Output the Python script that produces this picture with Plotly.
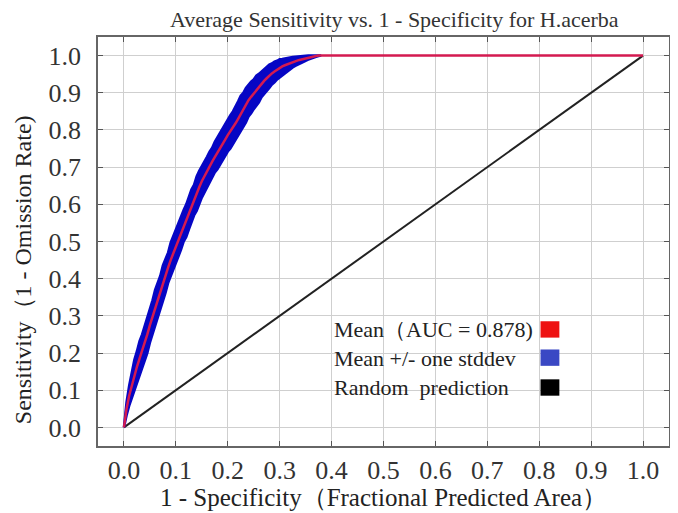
import plotly.graph_objects as go

# ---- data ----
fpr = [0, 0.005, 0.01, 0.015, 0.02, 0.025, 0.03, 0.035, 0.04, 0.045, 0.05, 0.055, 0.06, 0.065, 0.07, 0.075, 0.08, 0.085, 0.09, 0.095,
       0.10, 0.105, 0.11, 0.115, 0.12, 0.125, 0.13, 0.135, 0.14, 0.145, 0.15, 0.155, 0.16, 0.165, 0.17, 0.175, 0.18, 0.185, 0.19, 0.195,
       0.20, 0.205, 0.21, 0.215, 0.22, 0.225, 0.23, 0.235, 0.24, 0.245, 0.25, 0.255, 0.26, 0.265, 0.27, 0.275, 0.28, 0.285, 0.29, 0.295,
       0.30, 0.305, 0.31, 0.315, 0.32, 0.325, 0.33, 0.335, 0.34, 0.345, 0.35, 0.355, 0.36, 0.365, 0.37, 0.375, 0.38]
mean_tpr = [0, 0.05, 0.085, 0.113, 0.14, 0.163, 0.185, 0.205, 0.225, 0.25, 0.275, 0.298, 0.32, 0.343, 0.365, 0.388, 0.41, 0.43, 0.45, 0.468,
            0.487, 0.506, 0.525, 0.543, 0.56, 0.578, 0.595, 0.613, 0.63, 0.646, 0.662, 0.676, 0.69, 0.703, 0.715, 0.727, 0.738, 0.75, 0.762, 0.774,
            0.786, 0.796, 0.806, 0.818, 0.83, 0.843, 0.855, 0.868, 0.88, 0.889, 0.898, 0.907, 0.915, 0.924, 0.932, 0.939, 0.946, 0.952, 0.957, 0.962,
            0.967, 0.971, 0.974, 0.977, 0.98, 0.983, 0.985, 0.987, 0.989, 0.991, 0.993, 0.995, 0.997, 0.998, 0.999, 1.0, 1.0]
upper_tpr = [0, 0.068, 0.112, 0.15, 0.182, 0.205, 0.232, 0.25, 0.272, 0.3, 0.322, 0.342, 0.37, 0.388, 0.408, 0.436, 0.455, 0.47, 0.497, 0.515,
             0.53, 0.553, 0.568, 0.585, 0.6, 0.622, 0.64, 0.652, 0.675, 0.69, 0.702, 0.712, 0.728, 0.742, 0.752, 0.768, 0.78, 0.79, 0.803, 0.818,
             0.828, 0.84, 0.85, 0.866, 0.877, 0.892, 0.9, 0.913, 0.922, 0.93, 0.936, 0.946, 0.951, 0.957, 0.965, 0.97, 0.976, 0.979, 0.984, 0.986,
             0.99, 0.991, 0.993, 0.994, 0.995, 0.996, 0.997, 0.998, 0.999, 0.999, 1.0, 1.0, 1.0, 1.0, 1.0, 1.0, 1.0]
lower_tpr = [0, 0.032, 0.058, 0.078, 0.1, 0.122, 0.14, 0.16, 0.18, 0.2, 0.228, 0.252, 0.27, 0.298, 0.318, 0.34, 0.362, 0.388, 0.402, 0.422,
             0.44, 0.46, 0.478, 0.5, 0.512, 0.532, 0.548, 0.57, 0.582, 0.6, 0.618, 0.632, 0.648, 0.66, 0.672, 0.686, 0.694, 0.708, 0.716, 0.73,
             0.742, 0.75, 0.762, 0.772, 0.785, 0.798, 0.808, 0.82, 0.836, 0.845, 0.856, 0.866, 0.874, 0.888, 0.895, 0.905, 0.913, 0.922, 0.928, 0.936,
             0.942, 0.948, 0.953, 0.958, 0.963, 0.968, 0.972, 0.975, 0.979, 0.983, 0.986, 0.989, 0.992, 0.995, 0.997, 0.999, 1.0]
flat_x = [0.38, 1.0]
flat_y = [1.0, 1.0]
random_x = [0, 1]
random_y = [0, 1]
ticks = [0.0, 0.1, 0.2, 0.3, 0.4, 0.5, 0.6, 0.7, 0.8, 0.9, 1.0]
tick_text = ["0.0", "0.1", "0.2", "0.3", "0.4", "0.5", "0.6", "0.7", "0.8", "0.9", "1.0"]
legend_labels = ["Mean（AUC = 0.878)", "Mean +/- one stddev", "Random  prediction"]
legend_colors = ["#ee1111", "#3a48c4", "#000000"]

SERIF = "Liberation Serif, Times New Roman, serif"

fig = go.Figure()
fig.add_trace(go.Scatter(x=random_x, y=random_y, mode="lines",
                         line=dict(color="#222222", width=2), showlegend=False))
fig.add_trace(go.Scatter(x=fpr + fpr[::-1], y=upper_tpr + lower_tpr[::-1],
                         mode="lines", fill="toself", fillcolor="#0606c4",
                         line=dict(color="#0606c4", width=2.5), showlegend=False))
fig.add_trace(go.Scatter(x=fpr + flat_x[1:], y=mean_tpr + flat_y[1:], mode="lines",
                         line=dict(color="#d41a50", width=2.5), showlegend=False))

axis_common = dict(
    tickvals=ticks, ticktext=tick_text, ticks="inside", ticklen=5,
    tickcolor="#555555", showgrid=True, gridcolor="#cfcfcf", gridwidth=1,
    showline=True, linecolor="#666666", linewidth=1.5, mirror="ticks",
    zeroline=False, range=[-0.05, 1.05], automargin=False,
    tickfont=dict(family=SERIF, size=26, color="#333333"),
)
fig.update_xaxes(**axis_common, ticklabelstandoff=0)
fig.update_yaxes(**axis_common, ticklabelstandoff=10)

annotations = [
    dict(text="Average Sensitivity vs. 1 - Specificity for H.acerba",
         x=0.52, y=1.0, xref="paper", yref="paper", yshift=18,
         xanchor="center", yanchor="middle", showarrow=False,
         font=dict(family=SERIF, size=22, color="#333333")),
    dict(text="1 - Specificity（Fractional Predicted Area）",
         x=0.5, y=0, xref="paper", yref="paper", yshift=-51,
         xanchor="center", yanchor="middle", showarrow=False,
         font=dict(family=SERIF, size=25, color="#222222")),
    dict(text="Sensitivity（1 - Omission Rate)",
         x=0, y=0.43, xref="paper", yref="paper", xshift=-75,
         xanchor="center", yanchor="middle", showarrow=False, textangle=-90,
         font=dict(family=SERIF, size=24, color="#222222")),
]
legend_y = [0.284, 0.215, 0.142]
shapes = []
for lab, col, ly in zip(legend_labels, legend_colors, legend_y):
    annotations.append(dict(text=lab, x=0.41, y=ly, xref="paper", yref="paper",
                            xanchor="left", yanchor="middle", showarrow=False,
                            font=dict(family=SERIF, size=22, color="#222222")))
    shapes.append(dict(type="rect", xref="paper", yref="paper",
                       x0=0.775, x1=0.808, y0=ly - 0.019, y1=ly + 0.021,
                       fillcolor=col, line=dict(width=0)))

fig.update_layout(
    width=670, height=505,
    margin=dict(l=90, r=9, t=29, b=67),
    paper_bgcolor="white", plot_bgcolor="white",
    annotations=annotations, shapes=shapes, showlegend=False,
)
fig.write_html("out.html")
